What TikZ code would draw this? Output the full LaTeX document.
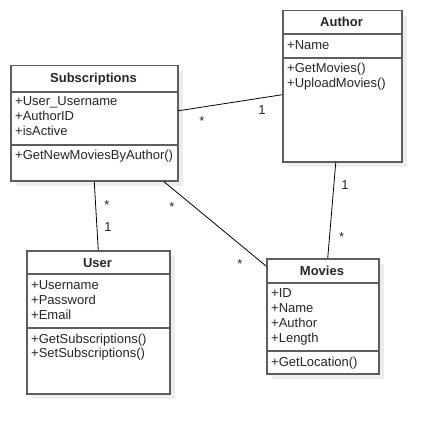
\documentclass[tikz,border=0pt]{standalone}
\usepackage{fontspec}
\setmainfont{Liberation Sans}
\definecolor{txt}{HTML}{262626}
\definecolor{boxc}{HTML}{5E5E5E}
\definecolor{shadc}{HTML}{EDEDED}
\begin{document}
\begin{tikzpicture}[x=1pt,y=-1pt,
  umlbox/.style={draw=boxc, line width=1.5pt, fill=white, anchor=north west, inner sep=0pt},
  divider/.style={draw=boxc, line width=1.5pt},
  shad/.style={fill=shadc, draw=none},
  hd/.style={font=\fontsize{13}{15}\selectfont\bfseries, text=txt, anchor=base, inner sep=0pt},
  ln/.style={font=\fontsize{13}{15}\selectfont, text=txt, anchor=base west, inner sep=0pt},
  lab/.style={font=\fontsize{13}{15}\selectfont, text=txt, anchor=base, inner sep=0pt},
  conn/.style={draw=black, line width=0.8pt}]
\useasboundingbox (0,0) rectangle (441,433);
% shadows
\fill[shad] (16,71) rectangle (183,186);
\fill[shad] (288,16) rectangle (407,167);
\fill[shad] (32,256) rectangle (175,399);
\fill[shad] (272,264) rectangle (384,379);
% boxes
\node[umlbox, minimum width=167pt, minimum height=115pt] (subs) at (10,65) {};
\node[umlbox, minimum width=119pt, minimum height=151pt] (author) at (282,10) {};
\node[umlbox, minimum width=143pt, minimum height=143pt] (user) at (26,250) {};
\node[umlbox, minimum width=112pt, minimum height=115pt] (movies) at (266,258) {};
% dividers
\draw[divider] (subs.west |- 0,92) -- (subs.east |- 0,92);
\draw[divider] (subs.west |- 0,145) -- (subs.east |- 0,145);
\draw[divider] (author.west |- 0,34) -- (author.east |- 0,34);
\draw[divider] (author.west |- 0,58) -- (author.east |- 0,58);
\draw[divider] (user.west |- 0,274) -- (user.east |- 0,274);
\draw[divider] (user.west |- 0,328) -- (user.east |- 0,328);
\draw[divider] (movies.west |- 0,283) -- (movies.east |- 0,283);
\draw[divider] (movies.west |- 0,351) -- (movies.east |- 0,351);
% Subscriptions text
\node[hd] (subsT) at (93.5,83) {Subscriptions};
\node[ln] (s1) at (15,106) {+User\_Username};
\node[ln] (s2) at (15,120.7) {+AuthorID};
\node[ln] (s3) at (15,135.2) {+isActive};
\node[ln] (s4) at (15,159.5) {+GetNewMoviesByAuthor()};
% Author text
\node[hd] (authT) at (341.5,27) {Author};
\node[ln] (a1) at (287,49.5) {+Name};
\node[ln] (a2) at (287,73) {+GetMovies()};
\node[ln] (a3) at (287,87.5) {+UploadMovies()};
% User text
\node[hd] (userT) at (97.5,267.3) {User};
\node[ln] (u1) at (31,289) {+Username};
\node[ln] (u2) at (31,304) {+Password};
\node[ln] (u3) at (31,319.5) {+Email};
\node[ln] (u4) at (31,343) {+GetSubscriptions()};
\node[ln] (u5) at (31,357.5) {+SetSubscriptions()};
% Movies text
\node[hd] (movT) at (322,275.3) {Movies};
\node[ln] (m1) at (271,297.3) {+ID};
\node[ln] (m2) at (271,312.3) {+Name};
\node[ln] (m3) at (271,327) {+Author};
\node[ln] (m4) at (271,342) {+Length};
\node[ln] (m5) at (271,366) {+GetLocation()};
% connectors
\draw[conn] ([yshift=12.5pt]subs.east) -- ([yshift=-8.5pt]author.west);
\draw[conn] (subs.south) -- (user.north);
\draw[conn] ([xshift=69.5pt]subs.south) -- ([yshift=-8pt]movies.north west);
\draw[conn] ([xshift=-6.5pt]author.south) -- ([xshift=5pt]movies.north);
% multiplicities
\node[lab] (l1) at (202,125.5) {*};
\node[lab] (l2) at (262,114.7) {1};
\node[lab] (l3) at (107,209.5) {*};
\node[lab] (l4) at (108,231.7) {1};
\node[lab] (l5) at (172,211.5) {*};
\node[lab] (l6) at (240,268.5) {*};
\node[lab] (l7) at (345,189.7) {1};
\node[lab] (l8) at (341.7,241.5) {*};
\end{tikzpicture}
\end{document}
